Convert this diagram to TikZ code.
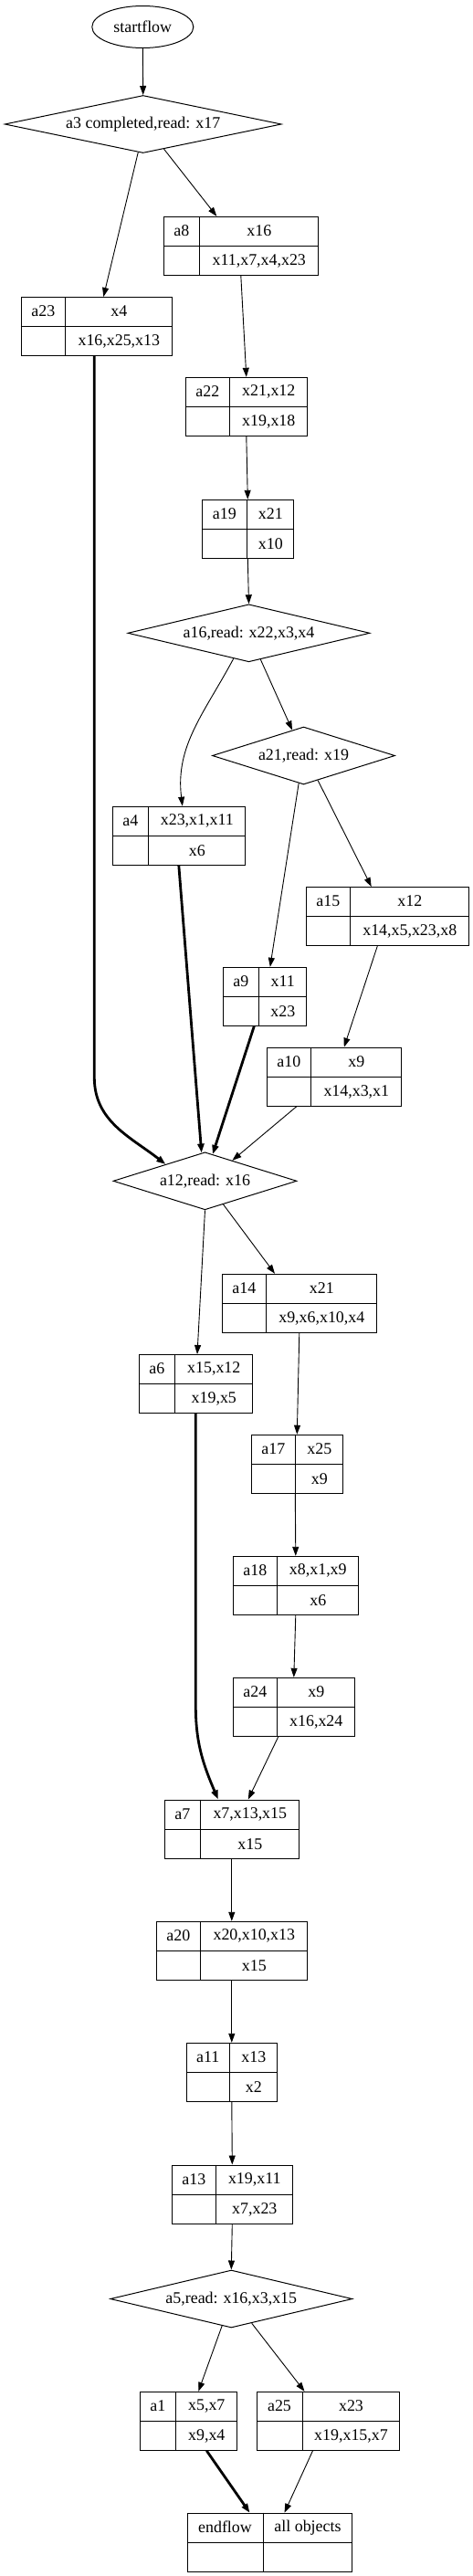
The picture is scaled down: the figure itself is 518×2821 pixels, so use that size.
\documentclass[tikz,border=0pt]{standalone}
\usepackage{fontspec}
\setmainfont{Liberation Serif}
\usetikzlibrary{arrows.meta,shapes.geometric,calc}
\tikzset{
  flowstart/.style={ellipse, draw, line width=1pt, inner sep=0pt, minimum width=111pt, minimum height=46pt},
  decision/.style={diamond, draw, line width=1pt, inner sep=0pt, minimum height=63pt},
  record/.style={rectangle, draw, line width=1pt, inner sep=0pt, minimum height=64pt},
  celltext/.style={inner sep=0pt},
  flow/.style={line width=0.9pt, -{Triangle[length=10pt,width=7pt]}},
  heavyflow/.style={line width=2.8pt, -{Triangle[length=10pt,width=7pt]}},
}
% record box: name, centre, width, width of first column, label, top, bottom
\newcommand{\recbox}[7]{%
  \node[record, minimum width=#3pt] (#1) at (#2) {};
  \coordinate (#1-t) at ([xshift=#4pt]#1.north west);
  \coordinate (#1-b) at ([xshift=#4pt]#1.south west);
  \draw[line width=1pt] (#1-t) -- (#1-b) (#1.west) -- (#1.east);
  \node[celltext] at ($(#1.north west)!0.5!(#1-t)+(0,-16pt)$) {#5};
  \node[celltext] at ($(#1-t)!0.5!(#1.north east)+(0,-16pt)$) {#6};
  \node[celltext] at ($(#1-b)!0.5!(#1.south east)+(0,16pt)$) {#7};
}

\begin{document}
\begin{tikzpicture}[x=1pt, y=-1pt, font=\fontsize{17.9}{20}\selectfont]
\useasboundingbox (0,0) rectangle (518,2821);
\node[flowstart] (start) at (156.3,29.5) {startflow};
\node[decision, minimum width=303pt, aspect=4.8] (a3) at (156.7,136) {a3 completed,read: x17};
\recbox{a8}{263.8,269.3}{169}{40}{a8}{x16}{x11,x7,x4,x23}
\recbox{a23}{105.8,357.5}{165}{49}{a23}{x4}{x16,x25,x13}
\recbox{a22}{269.8,445.3}{133}{49}{a22}{x21,x12}{x19,x18}
\recbox{a19}{271.3,579.3}{100}{50}{a19}{x21}{x10}
\node[decision, minimum width=265pt, aspect=4.2] (a16) at (272.5,693.3) {a16,read: x22,x3,x4};
\node[decision, minimum width=200pt, aspect=3.2] (a21) at (332.5,827.5) {a21,read: x19};
\recbox{a4}{195.8,915.2}{145}{40}{a4}{x23,x1,x11}{x6}
\recbox{a15}{424.3,1003.5}{178}{49}{a15}{x12}{x14,x5,x23,x8}
\recbox{a9}{289.8,1091.3}{91}{40}{a9}{x11}{x23}
\recbox{a10}{365.8,1179.2}{147}{49}{a10}{x9}{x14,x3,x1}
\node[decision, minimum width=201pt, aspect=3.2] (a12) at (224.5,1293.3) {a12,read: x16};
\recbox{a14}{327.8,1427.3}{169}{49}{a14}{x21}{x9,x6,x10,x4}
\recbox{a6}{214.3,1515.5}{124}{40}{a6}{x15,x12}{x19,x5}
\recbox{a17}{325.3,1603.2}{100}{49}{a17}{x25}{x9}
\recbox{a18}{323.8,1736.3}{137}{49}{a18}{x8,x1,x9}{x6}
\recbox{a24}{321.8,1869.3}{133}{49}{a24}{x9}{x16,x24}
\recbox{a7}{253.8,2003}{147}{40}{a7}{x7,x13,x15}{x15}
\recbox{a20}{253.8,2136.3}{165}{49}{a20}{x20,x10,x13}{x15}
\recbox{a11}{253.8,2269.3}{99}{48}{a11}{x13}{x2}
\recbox{a13}{254.3,2403}{132}{49}{a13}{x19,x11}{x7,x23}
\node[decision, minimum width=265pt, aspect=4.2] (a5) at (253.3,2517.5) {a5,read: x16,x3,x15};
\recbox{a1}{206.3,2651.3}{106}{40}{a1}{x5,x7}{x9,x4}
\recbox{a25}{359.5,2651.3}{156}{50}{a25}{x23}{x19,x15,x7}
\recbox{endflow}{295.5,2784.2}{180}{83}{endflow}{all objects}{}
% edges
\draw[flow] (start.south) -- (a3.north);
\draw[flow] (a3.-100) -- ([xshift=7.5pt]a23.north);
\draw[flow] (a3.-50) -- ([xshift=-26.5pt]a8.north);
\draw[flow] (a8.south) -- (a22.north);
\draw[flow] (a22.south) -- (a19.north);
\draw[flow] (a19.south) -- (a16.north);
\draw[flow] (a16.-66) -- (a21.114);
\draw[flow] (a16.-121) to[out=-118,in=97] ([xshift=4pt]a4.north);
\draw[flow] (a21.-100) -- ([xshift=6pt]a9.north);
\draw[flow] (a21.-60) -- ([xshift=-17.6pt]a15.north);
\draw[flow] ([xshift=-11pt]a15.south) -- ([xshift=11pt]a10.north);
\draw[flow] ([xshift=-41pt]a10.south) -- (a12.37);
\draw[heavyflow] ([xshift=-2.5pt]a23.south) -- ++(0,-790pt) to[out=-90,in=142] (a12.157);
\draw[heavyflow] (a4.south) -- (a12.97);
\draw[heavyflow] ([xshift=-11.5pt]a9.south) -- (a12.74);
\draw[flow] (a12.south) -- ([xshift=1.7pt]a6.north);
\draw[flow] (a12.-52) -- ([xshift=-26.8pt]a14.north);
\draw[flow] (a14.south) -- (a17.north);
\draw[flow] ([xshift=-2pt]a17.south) -- (a18.north);
\draw[flow] (a18.south) -- (a24.north);
\draw[flow] ([xshift=-17pt]a24.south) -- ([xshift=18pt]a7.north);
\draw[heavyflow] (a6.south) -- ++(0,-320pt) to[out=-90,in=113] ([xshift=-15pt]a7.north);
\draw[flow] (a7.south) -- (a20.north);
\draw[flow] (a20.south) -- (a11.north);
\draw[flow] (a11.south) -- (a13.north);
\draw[flow] (a13.south) -- (a5.north);
\draw[flow] (a5.-109) -- ([xshift=11pt]a1.north);
\draw[flow] (a5.-50) -- ([xshift=-26pt]a25.north);
\draw[heavyflow] ([xshift=20pt]a1.south) -- ([xshift=-22pt]endflow.north);
\draw[flow] ([xshift=-17pt]a25.south) -- ([xshift=16pt]endflow.north);
\end{tikzpicture}
\end{document}
